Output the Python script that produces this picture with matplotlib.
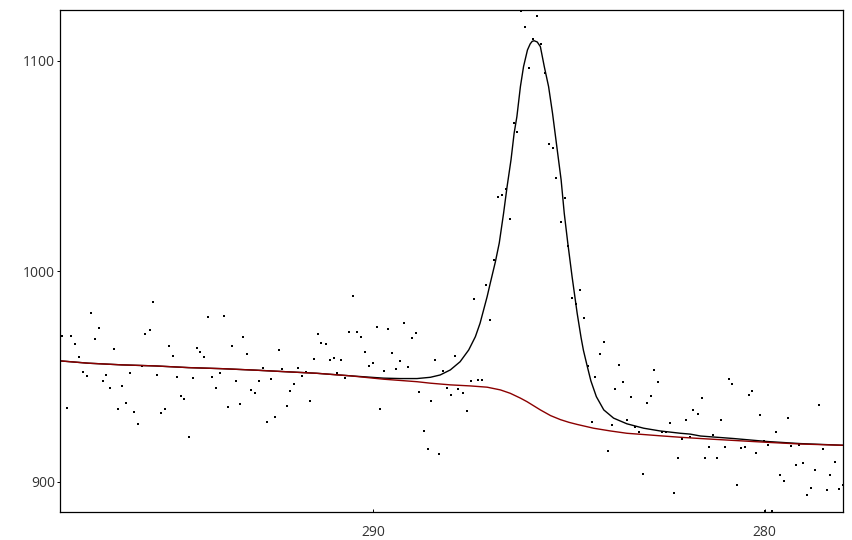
import matplotlib
matplotlib.use("Agg")
import matplotlib.pyplot as plt

# measured spectrum (binding energy in eV, counts)
binding_energy = [
    297.94, 297.83, 297.73, 297.62, 297.52, 297.42, 297.32, 297.21, 297.11, 297.01,
    296.91, 296.83, 296.73, 296.63, 296.52, 296.42, 296.32, 296.22, 296.12, 296.01,
    295.91, 295.83, 295.71, 295.63, 295.53, 295.43, 295.32, 295.22, 295.12, 295.02,
    294.91, 294.84, 294.71, 294.61, 294.51, 294.43, 294.33, 294.22, 294.12, 294.02,
    293.92, 293.82, 293.71, 293.61, 293.51, 293.41, 293.33, 293.23, 293.13, 293.02,
    292.92, 292.82, 292.72, 292.61, 292.51, 292.41, 292.33, 292.21, 292.13, 292.03,
    291.92, 291.82, 291.72, 291.62, 291.52, 291.41, 291.34, 291.21, 291.11, 291.00,
    290.93, 290.83, 290.72, 290.62, 290.52, 290.42, 290.31, 290.21, 290.11, 290.01,
    289.91, 289.83, 289.73, 289.62, 289.52, 289.42, 289.32, 289.22, 289.11, 289.01,
    288.91, 288.83, 288.70, 288.60, 288.53, 288.42, 288.32, 288.22, 288.12, 288.01,
    287.91, 287.84, 287.71, 287.61, 287.50, 287.43, 287.32, 287.22, 287.12, 287.02,
    286.92, 286.81, 286.71, 286.61, 286.51, 286.40, 286.33, 286.23, 286.12, 286.02,
    285.92, 285.82, 285.71, 285.61, 285.51, 285.41, 285.33, 285.20, 285.10, 285.02,
    284.92, 284.82, 284.72, 284.62, 284.51, 284.41, 284.33, 284.21, 284.10, 284.00,
    283.90, 283.82, 283.72, 283.62, 283.52, 283.41, 283.31, 283.21, 283.11, 283.01,
    282.90, 282.83, 282.72, 282.62, 282.52, 282.42, 282.32, 282.21, 282.11, 282.01,
    281.91, 281.83, 281.70, 281.60, 281.52, 281.42, 281.32, 281.22, 281.11, 281.01,
    280.91, 280.83, 280.71, 280.60, 280.50, 280.40, 280.32, 280.22, 280.12, 280.02,
    280.00, 279.91, 279.81, 279.71, 279.61, 279.50, 279.40, 279.33, 279.20, 279.12,
    279.02, 278.92, 278.81, 278.71, 278.61, 278.51, 278.41, 278.33, 278.20, 278.10, 278.00,
]
counts = [
    969.5, 935.3, 969.5, 965.7, 959.5, 952.4, 950.5, 980.4, 968.1, 973.3,
    948.1, 951.0, 944.8, 963.3, 934.8, 945.7, 937.7, 951.9, 933.4, 927.7,
    955.2, 970.4, 972.4, 985.7, 951.0, 932.9, 934.8, 964.7, 960.0, 950.0,
    941.0, 939.6, 921.5, 949.5, 963.8, 961.9, 959.5, 978.5, 950.0, 944.8,
    951.9, 979.0, 935.8, 964.7, 948.1, 937.2, 969.0, 961.0, 943.8, 942.4,
    948.1, 954.3, 928.6, 949.1, 931.0, 962.8, 953.8, 936.2, 943.4, 946.7,
    954.3, 950.5, 952.3, 938.6, 958.6, 970.4, 966.2, 965.7, 958.1, 959.0,
    951.9, 958.1, 949.5, 971.4, 988.5, 971.4, 969.0, 961.9, 955.2, 956.7,
    973.8, 934.8, 952.9, 972.8, 961.4, 953.8, 957.6, 975.7, 954.8, 968.6,
    970.9, 942.9, 924.4, 915.8, 938.6, 958.1, 913.4, 952.9, 944.8, 941.5,
    960.0, 944.3, 942.4, 933.9, 948.1, 987.1, 948.6, 948.6, 993.7, 977.1,
    1005.6, 1035.5, 1036.5, 1039.3, 1025.1, 1070.7, 1066.4, 1123.5, 1116.3, 1096.8,
    1110.6, 1121.5, 1108.2, 1094.4, 1060.7, 1058.8, 1044.6, 1023.7, 1035.1, 1012.3,
    987.6, 984.7, 991.4, 978.1, 955.2, 928.6, 950.0, 961.0, 966.7, 914.9,
    927.2, 944.3, 955.7, 947.6, 929.6, 940.5, 926.3, 923.9, 903.9, 937.7,
    941.0, 953.3, 947.6, 923.9, 923.9, 928.2, 894.9, 911.5, 920.6, 929.6,
    921.5, 934.3, 932.4, 940.0, 911.5, 916.8, 922.5, 911.5, 929.6, 916.8,
    949.1, 946.7, 898.7, 916.3, 916.8, 941.5, 943.4, 913.9, 932.0, 919.6,
    886.0, 917.7, 886.0, 923.9, 903.5, 900.6, 930.5, 917.2, 908.2, 917.7,
    909.2, 894.0, 897.3, 905.8, 936.7, 915.8, 896.3, 903.5, 909.6, 896.8, 898.7,
]

# fit envelope
envelope_be = [
    298.0, 297.28, 296.42, 295.57, 294.72, 293.87, 293.02, 292.29, 291.44, 290.59,
    289.74, 289.31, 288.88, 288.54, 288.29, 288.03, 287.78, 287.56, 287.39, 287.27,
    287.18, 287.09, 287.01, 286.88, 286.78, 286.67, 286.58, 286.48, 286.40, 286.33,
    286.24, 286.16, 286.06, 285.99, 285.94, 285.89, 285.81, 285.73, 285.63, 285.52,
    285.42, 285.31, 285.20, 285.12, 285.03, 284.92, 284.79, 284.69, 284.63, 284.54,
    284.44, 284.30, 284.11, 283.86, 283.52, 283.09, 282.67, 282.15, 281.90, 281.64,
    280.79, 279.94, 279.09, 278.0,
]
envelope_cts = [
    957.5, 956.4, 955.6, 955.1, 954.3, 953.8, 953.1, 952.4, 951.6, 950.4,
    949.3, 949.1, 949.1, 949.7, 950.8, 953.2, 957.1, 962.7, 969.0, 975.4,
    981.7, 988.0, 994.4, 1004.5, 1013.5, 1027.6, 1040.3, 1053.0, 1065.7, 1073.5,
    1087.8, 1097.3, 1105.2, 1108.1, 1109.3, 1109.6, 1109.0, 1106.8, 1097.3, 1087.8,
    1075.2, 1059.3, 1043.5, 1027.6, 1013.5, 997.5, 980.1, 968.5, 962.5, 955.5,
    948.0, 940.5, 934.2, 930.3, 927.6, 925.5, 924.2, 923.1, 922.7, 921.8,
    920.6, 919.2, 918.2, 917.4,
]

# background (Shirley-like)
background_be = [
    298.0, 297.28, 296.42, 295.57, 294.72, 293.87, 293.02, 292.29, 291.44, 290.59,
    289.74, 288.88, 288.54, 288.03, 287.52, 287.09, 286.75, 286.50, 286.24, 286.07,
    285.73, 285.47, 285.22, 285.00, 284.79, 284.37, 283.94, 283.52, 283.09, 282.67,
    282.15, 281.64, 280.79, 279.94, 279.09, 278.0,
]
background_cts = [
    957.5, 956.4, 955.6, 955.1, 954.3, 953.8, 953.1, 952.4, 951.6, 950.4,
    948.8, 947.6, 946.9, 946.1, 945.6, 945.0, 943.7, 942.1, 939.8, 938.1,
    934.2, 931.5, 929.6, 928.3, 927.3, 925.5, 924.2, 923.1, 922.5, 921.9,
    921.2, 920.6, 919.7, 918.8, 918.0, 917.4,
]

plt.rcParams['font.family'] = ['Open Sans', 'DejaVu Sans']

fig = plt.figure(figsize=(8.53, 5.40), dpi=100)
ax = fig.add_axes([60 / 853, 1 - 512 / 540, 783 / 853, 502 / 540])

ax.plot(binding_energy, counts, linestyle='none', marker='s', markersize=1.6,
        markerfacecolor='black', markeredgecolor='black', markeredgewidth=0)
ax.plot(envelope_be, envelope_cts, color='black', lw=1.0)
ax.plot(background_be, background_cts, color='#8b0000', lw=1.0)

ax.set_xlim(298.0, 278.0)
ax.set_ylim(885.7, 1124.2)
ax.set_xticks([290, 280])
ax.set_yticks([900, 1000, 1100])

for side in ax.spines.values():
    side.set_linewidth(0.9)
    side.set_color('black')

ax.tick_params(axis='x', direction='in', length=2.5, width=0.7, pad=9,
               labelsize=10, labelcolor='#333333')
ax.tick_params(axis='y', direction='out', length=2.5, width=0.7, pad=1,
               labelsize=10, labelcolor='#333333')

fig.savefig('out.png', dpi=100)
